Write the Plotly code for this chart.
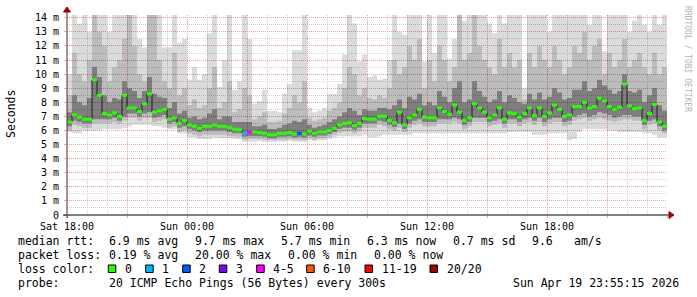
import plotly.graph_objects as go
from datetime import datetime, timedelta

# ---------------- data (15-minute bins, Sat 18:00 -> Sun 24:00) ----------------
median = [6.6, 7.1, 6.95, 6.8, 6.8, 9.6, 8.5, 7.2, 7.1, 7.25,
          7.0, 8.5, 7.6, 7.6, 7.35, 7.9, 8.6, 7.3, 7.4, 7.5,
          6.8, 6.9, 6.5, 6.7, 6.4, 6.3, 6.15, 6.3, 6.3, 6.4,
          6.3, 6.3, 6.2, 6.1, 6.05, 5.8, 5.85, 5.9, 5.85, 5.8,
          5.7, 5.7, 5.8, 5.8, 5.85, 5.75, 5.8, 5.75, 5.95, 5.8,
          5.9, 5.9, 6.0, 6.15, 6.4, 6.5, 6.55, 6.35, 6.5, 6.85,
          6.8, 6.8, 7.0, 7.0, 6.7, 6.55, 7.3, 6.4, 6.9, 7.1,
          7.5, 6.95, 6.9, 6.9, 7.6, 7.35, 7.15, 7.8, 7.3, 6.7,
          6.9, 7.9, 7.6, 7.3, 6.9, 7.1, 7.6, 6.8, 7.25, 7.2,
          6.95, 7.2, 7.6, 7.05, 7.6, 7.0, 7.25, 7.8, 7.5, 7.0,
          7.1, 7.7, 7.7, 8.0, 7.6, 7.7, 8.3, 8.1, 7.7, 7.5,
          7.65, 9.3, 7.75, 7.55, 7.6, 6.7, 7.2, 7.85, 6.6, 6.3]

smoke_max = [10.0, 14.2, 13.6, 14.2, 13.0, 14.2, 14.2, 14.2, 13.0, 14.2,
             14.2, 14.2, 14.2, 14.2, 12.5, 11.9, 14.2, 14.2, 14.2, 11.9,
             11.9, 14.2, 12.2, 12.5, 9.6, 10.5, 9.6, 10.0, 12.9, 14.2,
             9.1, 11.0, 14.2, 8.9, 9.5, 14.2, 12.5, 7.9, 8.1, 8.9,
             7.4, 7.4, 7.3, 8.6, 9.3, 11.7, 11.7, 14.2, 7.6, 7.3,
             7.4, 7.6, 8.6, 8.6, 9.3, 11.4, 14.2, 13.6, 10.9, 11.4,
             9.8, 9.9, 9.6, 9.7, 11.0, 14.2, 13.0, 12.8, 14.2, 14.2,
             14.2, 10.9, 14.2, 11.5, 14.2, 14.2, 11.1, 12.5, 14.2, 13.8,
             14.2, 14.2, 14.2, 14.2, 13.6, 12.9, 14.2, 13.6, 14.2, 14.2,
             14.2, 9.0, 14.2, 14.2, 14.2, 14.2, 13.0, 14.2, 14.2, 14.2,
             14.2, 14.2, 14.2, 14.2, 13.5, 14.2, 14.2, 11.6, 14.2, 14.2,
             14.2, 14.2, 13.0, 13.8, 14.2, 13.5, 13.0, 14.2, 13.5, 14.2]

smoke_up2 = [8.5, 11.5, 10.0, 9.5, 11.0, 14.2, 13.0, 12.0, 9.5, 10.5,
             11.0, 12.5, 14.2, 12.0, 10.0, 9.5, 14.2, 14.2, 11.0, 9.5,
             9.0, 11.5, 8.5, 9.0, 7.8, 8.2, 7.6, 7.8, 9.0, 10.5,
             7.6, 8.0, 9.5, 7.3, 7.5, 9.0, 8.5, 6.8, 7.0, 7.3,
             6.6, 6.6, 6.7, 7.2, 7.6, 8.5, 8.0, 9.5, 6.9, 6.7,
             6.8, 6.9, 7.4, 7.6, 8.0, 9.0, 10.5, 10.0, 8.5, 9.0,
             8.3, 8.2, 8.5, 8.3, 9.0, 11.0, 10.0, 10.5, 12.0, 11.0,
             12.5, 9.0, 11.0, 9.5, 12.0, 11.0, 9.5, 10.5, 14.2, 11.0,
             11.5, 14.2, 12.0, 11.0, 10.5, 10.0, 12.5, 10.5, 11.5, 10.5,
             11.0, 8.2, 11.5, 10.5, 12.0, 11.0, 10.5, 12.0, 11.0, 10.0,
             10.5, 12.0, 11.5, 13.0, 11.0, 12.0, 12.5, 10.0, 11.5, 10.5,
             11.0, 12.5, 10.5, 11.0, 11.5, 10.5, 10.0, 11.5, 10.0, 10.5]

smoke_up1 = [7.3, 8.5, 8.0, 7.8, 8.3, 10.5, 9.8, 8.5, 8.0, 8.3,
             8.2, 9.5, 9.0, 8.8, 8.3, 8.8, 9.8, 8.6, 8.4, 8.3,
             7.6, 8.0, 7.2, 7.4, 6.9, 7.0, 6.8, 6.9, 7.2, 7.5,
             6.8, 7.0, 7.0, 6.6, 6.6, 6.6, 6.6, 6.3, 6.3, 6.4,
             6.1, 6.1, 6.2, 6.4, 6.5, 6.7, 6.6, 6.8, 6.4, 6.2,
             6.3, 6.4, 6.6, 6.8, 7.0, 7.3, 7.6, 7.4, 7.1, 7.5,
             7.4, 7.4, 7.6, 7.6, 7.5, 7.8, 8.2, 7.6, 8.4, 8.2,
             8.6, 7.8, 8.0, 7.8, 8.8, 8.4, 8.0, 9.0, 9.5, 8.0,
             8.2, 9.5, 8.8, 8.4, 8.0, 8.2, 8.8, 8.0, 8.5, 8.3,
             8.0, 7.9, 8.6, 8.2, 8.7, 8.2, 8.4, 9.0, 8.7, 8.2,
             8.3, 8.9, 8.9, 9.5, 8.8, 9.0, 9.6, 9.2, 8.9, 8.6,
             8.8, 10.0, 8.8, 8.7, 8.9, 8.0, 8.5, 9.0, 7.8, 7.4]

smoke_lo1 = [6.3, 6.7, 6.6, 6.5, 6.5, 6.8, 6.8, 6.8, 6.8, 6.9,
             6.7, 7.0, 7.2, 7.2, 7.0, 7.2, 7.3, 6.9, 7.0, 7.1,
             6.5, 6.6, 6.2, 6.3, 6.1, 6.0, 5.9, 6.0, 6.0, 6.0,
             6.0, 6.0, 5.9, 5.8, 5.8, 5.55, 5.6, 5.6, 5.6, 5.55,
             5.45, 5.45, 5.55, 5.55, 5.6, 5.5, 5.55, 5.5, 5.65, 5.55,
             5.65, 5.65, 5.75, 5.9, 6.1, 6.2, 6.2, 6.05, 6.2, 6.5,
             6.5, 6.5, 6.7, 6.6, 6.4, 6.25, 6.5, 6.1, 6.5, 6.7,
             6.8, 6.6, 6.6, 6.6, 6.8, 6.8, 6.8, 6.9, 6.8, 6.4,
             6.6, 6.9, 6.9, 6.9, 6.6, 6.7, 6.8, 6.5, 6.8, 6.8,
             6.6, 6.8, 6.9, 6.7, 6.9, 6.6, 6.8, 6.9, 6.9, 6.6,
             6.7, 7.0, 7.1, 7.2, 7.0, 7.1, 7.3, 7.2, 7.1, 6.9,
             7.0, 7.1, 7.1, 7.0, 7.0, 6.4, 6.7, 6.8, 6.3, 6.0]

smoke_lo2 = [6.0, 6.4, 6.3, 6.2, 6.2, 6.5, 6.5, 6.5, 6.5, 6.6,
             6.5, 6.7, 6.9, 6.9, 6.7, 6.9, 6.9, 6.6, 6.7, 6.8,
             6.2, 6.3, 5.9, 6.0, 5.8, 5.7, 5.6, 5.7, 5.7, 5.7,
             5.7, 5.7, 5.6, 5.6, 5.55, 5.35, 5.4, 5.4, 5.4, 5.35,
             5.3, 5.3, 5.35, 5.35, 5.4, 5.35, 5.35, 5.3, 5.45, 5.35,
             5.45, 5.45, 5.55, 5.7, 5.85, 5.95, 5.95, 5.8, 5.95, 6.2,
             6.2, 6.2, 6.4, 6.3, 6.1, 6.0, 6.2, 5.9, 6.2, 6.4,
             6.5, 6.3, 6.3, 6.3, 6.5, 6.5, 6.5, 6.6, 6.5, 6.1,
             6.3, 6.6, 6.6, 6.6, 6.3, 6.4, 6.5, 6.2, 6.5, 6.5,
             6.3, 6.5, 6.6, 6.4, 6.6, 6.3, 6.5, 6.6, 6.6, 6.3,
             6.4, 6.7, 6.8, 6.9, 6.7, 6.8, 6.9, 6.8, 6.7, 6.6,
             6.7, 6.8, 6.8, 6.7, 6.7, 6.1, 6.4, 6.5, 6.0, 5.8]

smoke_min = [5.9, 5.8, 5.8, 6.0, 6.0, 6.0, 6.0, 6.1, 6.1, 6.1,
             6.1, 6.2, 6.3, 6.4, 6.4, 6.4, 6.4, 6.3, 6.3, 6.2,
             6.1, 6.1, 5.8, 5.8, 5.5, 5.5, 5.4, 5.4, 5.4, 5.5,
             5.45, 5.45, 5.45, 5.4, 5.4, 5.2, 5.2, 5.2, 5.25, 5.2,
             5.2, 5.2, 5.2, 5.2, 5.25, 5.2, 5.2, 5.2, 5.3, 5.25,
             5.3, 5.3, 5.4, 5.5, 5.6, 5.6, 5.6, 5.6, 5.6, 5.7,
             5.5, 5.5, 5.6, 5.7, 5.7, 5.7, 5.7, 5.7, 5.7, 5.8,
             5.8, 5.8, 5.8, 5.8, 5.8, 5.8, 5.8, 5.8, 5.8, 5.8,
             5.8, 5.8, 5.8, 5.8, 5.8, 5.8, 5.8, 5.8, 5.9, 5.9,
             5.9, 5.9, 5.9, 5.7, 5.7, 5.7, 5.8, 5.8, 5.8, 5.8,
             5.3, 5.4, 5.9, 6.1, 6.1, 6.1, 6.1, 6.1, 6.0, 6.0,
             5.9, 5.9, 5.9, 5.9, 5.9, 5.8, 5.8, 5.7, 5.5, 5.5]

# lost pings (out of 20) per bin
loss = [0] * 120
loss[35] = 1
loss[36] = 4
loss[46] = 2

y_tick_vals = list(range(0, 15))
y_tick_text = ["0"] + ["%d m" % v for v in range(1, 15)]
x_tick_text = ["Sat 18:00", "", "Sun 00:00", "", "Sun 06:00", "", "Sun 12:00", "", "Sun 18:00", "", ""]

legend_lines = [
    [(16, "median rtt:"), (106.7, "6.9 ms avg"), (192.7, "9.7 ms max"), (279, "5.7 ms min"),
     (365, "6.3 ms now"), (451, "0.7 ms sd"), (530, "9.6"), (572.3, "am/s")],
    [(16, "packet loss:"), (107.3, "0.19 % avg"), (192.7, "20.00 % max"), (286, "0.00 % min"),
     (372.3, "0.00 % now")],
    [(16, "loss color:")],
    [(16, "probe:"), (107.3, "20 ICMP Echo Pings (56 Bytes) every 300s")],
]
loss_legend = [("0", "#26ff00", 108.3), ("1", "#00b8ff", 145.7), ("2", "#0059ff", 182.7),
               ("3", "#7e00ff", 219.3), ("4-5", "#ff00ff", 256.7), ("6-10", "#ff5500", 306.7),
               ("11-19", "#ff0000", 365), ("20/20", "#a10000", 430)]
date_text = "Sun Apr 19 23:55:15 2026"

# ---------------- geometry ----------------
W, H = 697, 297
L, R, T, B = 67, 30, 15, 82
PW, PH = W - L - R, H - T - B
MONO = "DejaVu Sans Mono"


def px(x):
    return (x - L) / PW


def py(y):
    return (H - B - y) / PH


def loss_color(n):
    if n == 0:
        return "#26ff00"
    if n == 1:
        return "#00b8ff"
    if n == 2:
        return "#0059ff"
    if n == 3:
        return "#7e00ff"
    if n <= 5:
        return "#ff00ff"
    if n <= 10:
        return "#ff5500"
    if n <= 19:
        return "#ff0000"
    return "#a10000"


start = datetime(2026, 4, 18, 18, 0)
step = timedelta(minutes=15)
times = [start + step * k for k in range(len(median))]
end = start + step * len(median)
xs = times + [end]


def ext(v):
    return list(v) + [v[-1]]


fig = go.Figure()

bands = [(smoke_min, smoke_max, "rgba(0,0,0,0.14)"),
         (smoke_lo2, smoke_up2, "rgba(0,0,0,0.14)"),
         (smoke_lo1, smoke_up1, "rgba(0,0,0,0.32)")]
for lo, hi, col in bands:
    fig.add_trace(go.Scatter(x=xs, y=ext(lo), mode="lines", line=dict(width=0, shape="hv"),
                             hoverinfo="skip", showlegend=False))
    fig.add_trace(go.Scatter(x=xs, y=ext(hi), mode="lines", line=dict(width=0, shape="hv"),
                             fill="tonexty", fillcolor=col, hoverinfo="skip", showlegend=False))

# dark step connector of the median
fig.add_trace(go.Scatter(x=xs, y=ext(median), mode="lines",
                         line=dict(width=1, shape="hv", color="#1e1e1e"),
                         hoverinfo="skip", showlegend=False))

# median segments coloured by loss
groups = {}
for k, m in enumerate(median):
    c = loss_color(loss[k])
    gx, gy = groups.setdefault(c, ([], []))
    gx += [xs[k], xs[k + 1], None]
    gy += [m, m, None]
for c, (gx, gy) in groups.items():
    fig.add_trace(go.Scatter(x=gx, y=gy, mode="lines", line=dict(width=3, color=c),
                             connectgaps=False, hoverinfo="skip", showlegend=False))

shapes = []
# axes lines and arrows
shapes.append(dict(type="line", xref="paper", yref="paper", x0=px(63), x1=px(670), y0=py(215), y1=py(215),
                   line=dict(color="#000000", width=1)))
shapes.append(dict(type="path", xref="paper", yref="paper",
                   path="M %f %f L %f %f L %f %f Z" % (px(669), py(211.5), px(674), py(215), px(669), py(218.5)),
                   fillcolor="#a00000", line=dict(color="#a00000", width=1)))
shapes.append(dict(type="line", xref="paper", yref="paper", x0=px(67), x1=px(67), y0=py(218), y1=py(11),
                   line=dict(color="#4a2a2a", width=1)))
shapes.append(dict(type="path", xref="paper", yref="paper",
                   path="M %f %f L %f %f L %f %f Z" % (px(63.5), py(12), px(67), py(7), px(70.5), py(12)),
                   fillcolor="#a00000", line=dict(color="#a00000", width=1)))

annotations = []
LINE_Y = [241, 255, 269, 283]
for row, items in enumerate(legend_lines):
    for xpos, txt in items:
        annotations.append(dict(x=px(xpos), y=py(LINE_Y[row]), xref="paper", yref="paper",
                                text=txt.replace(" ", "&nbsp;"), showarrow=False, xanchor="left",
                                yanchor="middle", font=dict(family=MONO, size=11.5, color="#000000")))
for label, col, bx in loss_legend:
    shapes.append(dict(type="rect", xref="paper", yref="paper", x0=px(bx), x1=px(bx + 7.5),
                       y0=py(272.5), y1=py(265), fillcolor=col, line=dict(color="#000000", width=1)))
    annotations.append(dict(x=px(bx + 14.7), y=py(LINE_Y[2]), xref="paper", yref="paper",
                            text=label, showarrow=False, xanchor="left", yanchor="middle",
                            font=dict(family=MONO, size=11.5, color="#000000")))
annotations.append(dict(x=px(680.5), y=py(LINE_Y[3]), xref="paper", yref="paper",
                        text=date_text.replace(" ", "&nbsp;"), showarrow=False, xanchor="right",
                        yanchor="middle", font=dict(family=MONO, size=11.5, color="#000000")))
annotations.append(dict(x=px(11), y=py(114), xref="paper", yref="paper", text="Seconds",
                        showarrow=False, textangle=-90, xanchor="center", yanchor="middle",
                        font=dict(family=MONO, size=11.5, color="#000000")))
annotations.append(dict(x=px(687), y=py(59), xref="paper", yref="paper", text="RRDTOOL / TOBI OETIKER",
                        showarrow=False, textangle=90, xanchor="center", yanchor="middle",
                        font=dict(family=MONO, size=8, color="#b4b4b4")))

x_tick_vals = [start + timedelta(hours=3 * i) for i in range(11)]

fig.update_layout(
    width=W, height=H, margin=dict(l=L, r=R, t=T, b=B),
    paper_bgcolor="#ffffff", plot_bgcolor="#ffffff",
    showlegend=False, shapes=shapes, annotations=annotations,
    xaxis=dict(type="date", range=[start, end], tickmode="array", tickvals=x_tick_vals,
               ticktext=x_tick_text, showgrid=True, gridcolor="#e6a0a0", griddash="1px,1px",
               gridwidth=1, zeroline=False, showline=False, ticks="outside", ticklen=2,
               tickcolor="#e6a0a0", tickfont=dict(family=MONO, size=10, color="#000000"),
               minor=dict(tickmode="linear", tick0=start, dtick=3600000, showgrid=True,
                          gridcolor="#d2d2d2", griddash="1px,1px", gridwidth=1),
               fixedrange=True),
    yaxis=dict(range=[0, 14.2], tickmode="array", tickvals=y_tick_vals, ticktext=y_tick_text,
               showgrid=True, gridcolor="#e6a0a0", griddash="1px,1px", gridwidth=1,
               zeroline=False, showline=False, ticks="outside", ticklen=2, tickcolor="#e6a0a0",
               tickfont=dict(family=MONO, size=10, color="#000000"), ticklabelstandoff=3,
               minor=dict(tickmode="linear", tick0=0, dtick=0.5, showgrid=True,
                          gridcolor="#d2d2d2", griddash="1px,1px", gridwidth=1),
               fixedrange=True),
)

fig.write_html("out.html")
